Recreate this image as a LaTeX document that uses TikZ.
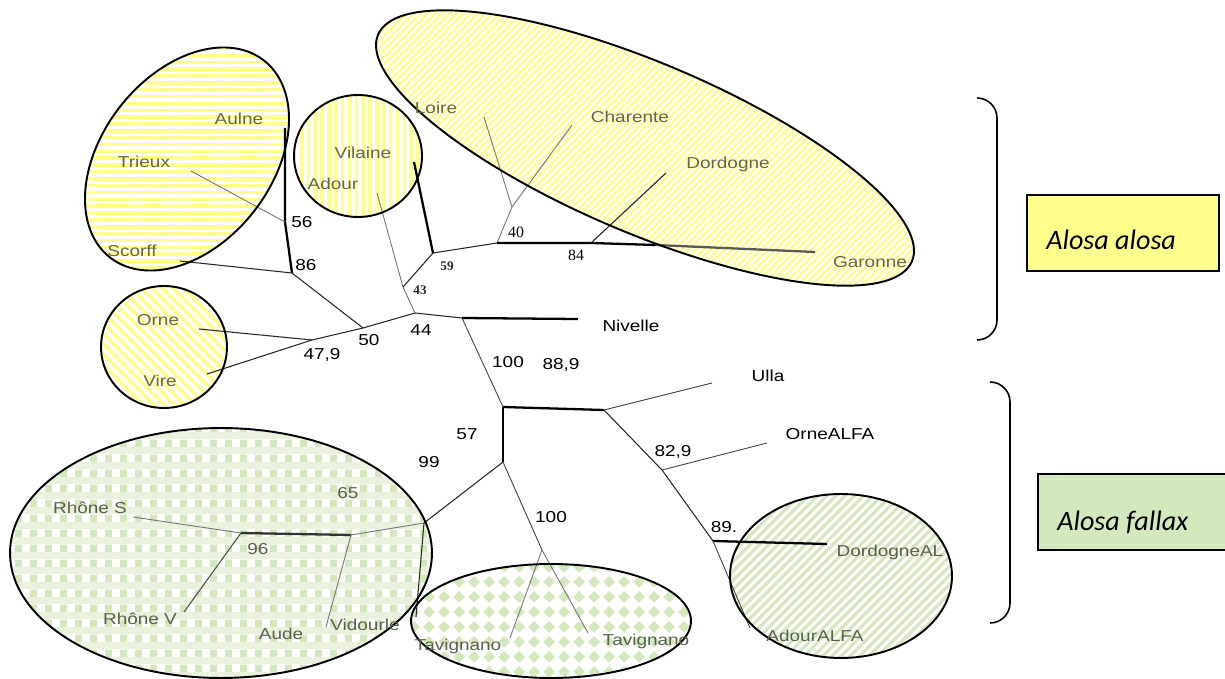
\documentclass[tikz,border=0pt]{standalone}
\usepackage{fontspec}
\setmainfont{Liberation Sans}
\newfontfamily\labfont[FakeStretch=1.2]{Liberation Sans}
\newfontfamily\serfont{Liberation Serif}
\newfontfamily\boxfont{Carlito}
\usetikzlibrary{patterns,patterns.meta}
\definecolor{yfill}{HTML}{FFFF8C}
\definecolor{gfill}{HTML}{D4E8BE}
\definecolor{gmid}{HTML}{E8F2DD}
\definecolor{ytext}{HTML}{66664A}
\definecolor{gtext}{HTML}{55624A}
\pgfdeclarepatternformonly{gdiamonds}{\pgfpointorigin}{\pgfpoint{8.6pt}{8.6pt}}{\pgfpoint{8.6pt}{8.6pt}}{%
  \pgfpathmoveto{\pgfpoint{4.3pt}{0.8pt}}%
  \pgfpathlineto{\pgfpoint{7.8pt}{4.3pt}}%
  \pgfpathlineto{\pgfpoint{4.3pt}{7.8pt}}%
  \pgfpathlineto{\pgfpoint{0.8pt}{4.3pt}}%
  \pgfpathclose\pgfusepath{fill}}
\pgfdeclarepatterninherentlycolored{gchecker}{\pgfpointorigin}{\pgfpoint{8.6pt}{8.6pt}}{\pgfpoint{8.6pt}{8.6pt}}{%
  \pgfsetfillcolor{gmid}%
  \pgfpathrectangle{\pgfpointorigin}{\pgfpoint{8.6pt}{4.3pt}}\pgfusepath{fill}%
  \pgfsetfillcolor{gfill}%
  \pgfpathrectangle{\pgfpoint{0pt}{4.3pt}}{\pgfpoint{4.3pt}{4.3pt}}\pgfusepath{fill}%
  \pgfsetfillcolor{white}%
  \pgfpathrectangle{\pgfpoint{4.3pt}{4.3pt}}{\pgfpoint{4.3pt}{4.3pt}}\pgfusepath{fill}}
% rotated ellipse: cx, cy, a, b, angle (ccw on screen), pixel units
\newcommand\RotEll[5]{plot[domain=0:360,samples=145,variable=\t]({#1+#3*cos(\t)*cos(#5)-#4*sin(\t)*sin(#5)},{#2-#3*cos(\t)*sin(#5)-#4*sin(\t)*cos(#5)}) -- cycle}
\tikzset{
  ellb/.style={draw=black, line width=1.1pt},
  br/.style={draw=black!85, line width=0.6pt},
  lf/.style={draw=black!55, line width=0.5pt},
  bbr/.style={draw=black, line width=1.3pt},
  lab/.style={inner sep=0pt, font=\labfont\fontsize{9}{10}\selectfont},
  yl/.style={lab, text=ytext},
  gl/.style={lab, text=gtext},
  bl/.style={lab, text=black},
  sn/.style={inner sep=0pt, font=\serfont\fontsize{9}{10}\selectfont, text=black},
  snb/.style={inner sep=0pt, font=\serfont\bfseries\fontsize{7.5}{9}\selectfont, text=black!85},
  spbox/.style={draw=black, line width=0.8pt, minimum width=3.84cm, minimum height=1.52cm, inner sep=0pt},
  boxtext/.style={inner sep=0pt, anchor=west, font=\boxfont\itshape\fontsize{16}{19}\selectfont},
  brace/.style={draw=black, line width=0.9pt, rounded corners=0.4cm}
}
\begin{document}
\begin{tikzpicture}[x=0.02cm, y=-0.02cm]
\useasboundingbox (0,0) rectangle (1225,679);
\clip (0,0) rectangle (1225,679);

% ---- cluster fills ----
\path[pattern={Lines[angle=0,distance=3.9pt,line width=2pt]}, pattern color=yfill] \RotEll{187}{159}{125}{85}{52};
\path[pattern={Lines[angle=90,distance=3.9pt,line width=2pt]}, pattern color=yfill] (358,156) ellipse [x radius=1.28cm, y radius=1.22cm];
\path[pattern={Lines[angle=-45,distance=4.2pt,line width=2pt]}, pattern color=yfill] (164,347) ellipse [x radius=1.26cm, y radius=1.22cm];
\path[pattern={Lines[angle=45,distance=2.9pt,line width=1.4pt]}, pattern color=yfill] \RotEll{645}{148}{290}{85}{-23};
\path[pattern=gchecker] (221,553) ellipse [x radius=4.22cm, y radius=2.5cm];
\path[pattern=gdiamonds, pattern color=gfill] (551,621) ellipse [x radius=2.8cm, y radius=1.14cm];
\path[pattern={Lines[angle=45,distance=3.7pt,line width=1.8pt]}, pattern color=gfill] (841,576) ellipse [x radius=2.22cm, y radius=1.64cm];

% ---- tree points ----
\coordinate (tAulne) at (285,128);
\coordinate (n56) at (285,222);
\coordinate (n86) at (292,273);
\coordinate (tTrieux) at (191,171);
\coordinate (tScorff) at (180,261);
\coordinate (n50) at (363,328);
\coordinate (n479) at (312,340);
\coordinate (tOrne) at (199,329);
\coordinate (tVire) at (207,374);
\coordinate (n44) at (415,313);
\coordinate (n43) at (403,287);
\coordinate (tAdour) at (377,193);
\coordinate (n59) at (433,253);
\coordinate (tVilaine) at (414,162);
\coordinate (n40b) at (497,243);
\coordinate (n40a) at (512,207);
\coordinate (tLoire) at (484,117);
\coordinate (tCharente) at (572,125);
\coordinate (n84) at (591,243);
\coordinate (tDordogne) at (666,173);
\coordinate (kG) at (656,245);
\coordinate (tGaronne) at (815,252);
\coordinate (nR) at (462,318);
\coordinate (tNivelle) at (578,319);
\coordinate (n889) at (503,407);
\coordinate (n889r) at (604,410);
\coordinate (tUlla) at (712,383);
\coordinate (n829) at (662,470);
\coordinate (tOrneALFA) at (767,443);
\coordinate (n89) at (713,541);
\coordinate (tDordAL) at (827,544);
\coordinate (tAdourALFA) at (750,628);
\coordinate (n57) at (503,462);
\coordinate (n99) at (424,523);
\coordinate (n65) at (351,535);
\coordinate (n96) at (241,533);
\coordinate (tRhoneS) at (133,517);
\coordinate (tRhoneV) at (184,612);
\coordinate (tAude) at (326,627);
\coordinate (tVidourle) at (416,617);
\coordinate (n100b) at (542,550);
\coordinate (tTav1) at (510,638);
\coordinate (tTav2) at (588,633);

% ---- branches ----
\draw[bbr] (tAulne) -- (n56) -- (n86);
\draw[lf] (tTrieux) -- (n56);
\draw[br] (tScorff) -- (n86);
\draw[br] (n86) -- (n50);
\draw[br] (n50) -- (n479);
\draw[br] (tOrne) -- (n479);
\draw[br] (tVire) -- (n479);
\draw[br] (n50) -- (n44);
\draw[lf] (tAdour) -- (n43);
\draw[lf] (n43) -- (n44);
\draw[br] (n43) -- (n59);
\draw[bbr] (tVilaine) -- (n59);
\draw[br] (n59) -- (n40b);
\draw[lf] (n40b) -- (n40a);
\draw[lf] (n40a) -- (tLoire);
\draw[lf] (n40a) -- (tCharente);
\draw[bbr] (n40b) -- (n84) -- (kG);
\draw[bbr, draw=black!65] (kG) -- (tGaronne);
\draw[br] (n84) -- (tDordogne);
\draw[br] (n44) -- (nR);
\draw[bbr] (nR) -- (tNivelle);
\draw[lf, draw=black!75] (nR) -- (n889);
\draw[bbr] (n889) -- (n889r);
\draw[lf, draw=black!75] (n889r) -- (tUlla);
\draw[br] (n889r) -- (n829);
\draw[lf, draw=black!75] (n829) -- (tOrneALFA);
\draw[br] (n829) -- (n89);
\draw[bbr] (n89) -- (tDordAL);
\draw[lf, draw=black!75] (n89) -- (tAdourALFA);
\draw[bbr] (n889) -- (n57);
\draw[br] (n57) -- (n99);
\draw[lf] (n99) -- (n65);
\draw[bbr, draw=black!80] (n65) -- (n96);
\draw[lf] (n96) -- (tRhoneS);
\draw[br, draw=black!70] (n96) -- (tRhoneV);
\draw[lf] (n65) -- (tAude);
\draw[br] (n99) -- (tVidourle);
\draw[lf, draw=black!75] (n57) -- (n100b);
\draw[lf] (n100b) -- (tTav1);
\draw[lf] (n100b) -- (tTav2);

% ---- cluster outlines ----
\draw[ellb] \RotEll{187}{159}{125}{85}{52};
\draw[ellb] (358,156) ellipse [x radius=1.28cm, y radius=1.22cm];
\draw[ellb] (164,347) ellipse [x radius=1.26cm, y radius=1.22cm];
\draw[ellb] \RotEll{645}{148}{290}{85}{-23};
\draw[ellb] (221,553) ellipse [x radius=4.22cm, y radius=2.5cm];
\draw[ellb] (551,621) ellipse [x radius=2.8cm, y radius=1.14cm];
\draw[ellb] (841,576) ellipse [x radius=2.22cm, y radius=1.64cm];

% ---- leaf labels ----
\node[yl] (lAulne) at (239,119) {Aulne};
\node[yl] (lTrieux) at (144,162) {Trieux};
\node[yl] (lScorff) at (132,251) {Scorff};
\node[yl] (lVilaine) at (363,153) {Vilaine};
\node[yl] (lAdour) at (333,184) {Adour};
\node[yl] (lLoire) at (436,108) {Loire};
\node[yl] (lCharente) at (630,117) {Charente};
\node[yl] (lDordogne) at (728,164) {Dordogne};
\node[yl] (lGaronne) at (870,262) {Garonne};
\node[bl] (lNivelle) at (631,326) {Nivelle};
\node[yl] (lOrne) at (158,320) {Orne};
\node[yl] (lVire) at (160,381) {Vire};
\node[bl] (lUlla) at (768,376) {Ulla};
\node[bl] (lOrneALFA) at (830,434) {OrneALFA};
\node[gl] (lDordAL) at (890,552) {DordogneAL};
\node[gl] (lAdourALFA) at (815,636) {AdourALFA};
\node[gl] (lRhoneS) at (90,508) {Rhône S};
\node[gl] (lRhoneV) at (140,619) {Rhône V};
\node[gl] (lAude) at (281,634) {Aude};
\node[gl] (lVidourle) at (365,625) {Vidourle};
\node[gl] (lTav1) at (458,646) {Tavignano};
\node[gl] (lTav2) at (646,641) {Tavignano};

% ---- support values ----
\node[bl] (v56) at (302,222) {56};
\node[bl] (v86) at (306,265) {86};
\node[bl] (v479) at (322,355) {47,9};
\node[bl] (v50) at (369,340) {50};
\node[snb] (v43) at (420,290) {43};
\node[snb] (v59) at (447,266) {59};
\node[bl] (v44) at (421,330) {44};
\node[sn] (v40) at (516,232) {40};
\node[sn] (v84) at (576,255) {84};
\node[bl] (v100a) at (508,362) {100};
\node[bl] (v889) at (561,365) {88,9};
\node[bl] (v57) at (467,434) {57};
\node[bl] (v829) at (673,452) {82,9};
\node[bl] (v89) at (724,527) {89.};
\node[bl] (v99) at (429,462) {99};
\node[bl] (v100b) at (551,517) {100};
\node[gl] (v65) at (348,493) {65};
\node[gl] (v96) at (258,549) {96};

% ---- species brackets and boxes ----
\draw[brace] (977,98) -- (997,98) -- (997,340) -- (977,340);
\draw[brace] (990,382) -- (1010,382) -- (1010,623) -- (990,623);
\node[spbox, fill=yfill] (boxA) at (1123,233) {};
\node[boxtext] (txtA) at (1046,240) {Alosa alosa};
\node[spbox, fill=gfill] (boxF) at (1134,512) {};
\node[boxtext] (txtF) at (1057,522) {Alosa fallax};
\end{tikzpicture}
\end{document}
